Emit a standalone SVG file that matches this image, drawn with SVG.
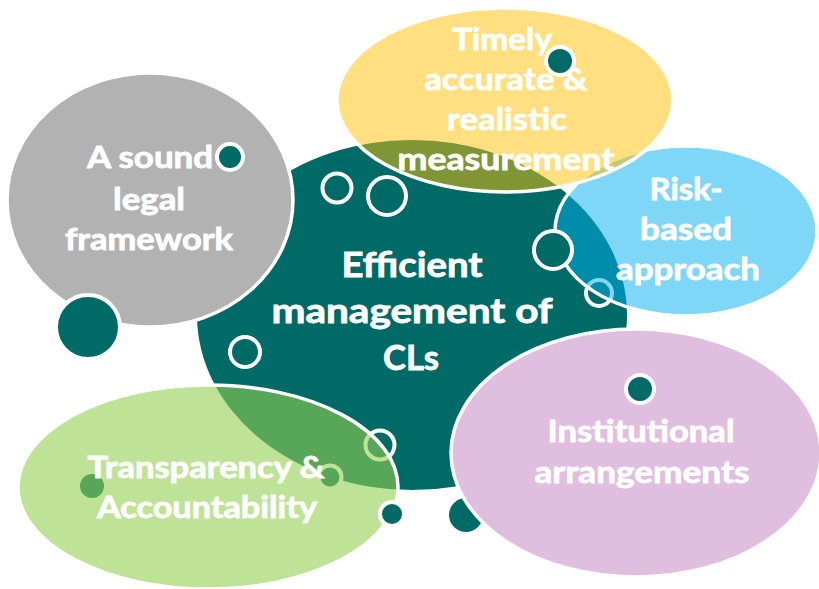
<svg xmlns="http://www.w3.org/2000/svg" width="819" height="589" viewBox="0 0 819 589">
  <style>
    .lbl { font-family: Lato, "Open Sans", "DejaVu Sans", sans-serif; font-weight: bold; fill: #ffffff; stroke: #ffffff; stroke-width: 0.8; text-anchor: middle; }
    .edge { stroke: #ffffff; stroke-width: 3.5; }
    .ring { fill: #006a67; stroke: #ffffff; stroke-width: 4; }
    .dot { fill: #006a67; }
  </style>

  <rect width="819" height="589" fill="#ffffff"/>

  <!-- central bubble -->
  <g id="center">
    <ellipse cx="412" cy="315" rx="215" ry="175" fill="#006a67"/>
    <text class="lbl" font-size="35" x="412" y="277" textLength="141" lengthAdjust="spacingAndGlyphs">Efficient</text>
    <text class="lbl" font-size="35" x="412" y="323" textLength="281" lengthAdjust="spacingAndGlyphs">management of</text>
    <text class="lbl" font-size="35" x="411" y="370" textLength="56" lengthAdjust="spacingAndGlyphs">CLs</text>
  </g>

  <!-- small rings lying beneath the translucent bubbles -->
  <g id="rings-low">
    <circle class="ring" cx="337" cy="188" r="14.5"/>
    <circle class="ring" cx="387" cy="196" r="19"/>
    <circle class="ring" cx="245" cy="352" r="15"/>
    <circle class="ring" cx="599" cy="293" r="13"/>
    <circle class="ring" cx="380" cy="445" r="14.5"/>
    <circle class="ring" cx="330" cy="477" r="11.5"/>
    <circle class="dot" cx="92" cy="486" r="12"/>
  </g>

  <g id="legal">
    <ellipse class="edge" cx="150" cy="200" rx="143" ry="127" fill="#b2b2b2"/>
    <text class="lbl" font-size="30" x="150" y="168" textLength="126" lengthAdjust="spacingAndGlyphs">A sound</text>
    <text class="lbl" font-size="30" x="149" y="210" textLength="72" lengthAdjust="spacingAndGlyphs">legal</text>
    <text class="lbl" font-size="30" x="149" y="250" textLength="168" lengthAdjust="spacingAndGlyphs">framework</text>
  </g>

  <g id="rings-legal">
    <circle class="ring" cx="88" cy="327" r="32"/>
    <circle class="ring" cx="230" cy="157" r="13"/>
  </g>

  <g id="risk">
    <ellipse class="edge" cx="686" cy="231" rx="131" ry="85" fill="#00b0f0" fill-opacity="0.5"/>
    <text class="lbl" font-size="31" x="686" y="200" textLength="73" lengthAdjust="spacingAndGlyphs">Risk-</text>
    <text class="lbl" font-size="31" x="686" y="240" textLength="92" lengthAdjust="spacingAndGlyphs">based</text>
    <text class="lbl" font-size="31" x="688" y="280" textLength="144" lengthAdjust="spacingAndGlyphs">approach</text>
  </g>

  <circle class="ring" cx="553" cy="250" r="19"/>

  <g id="timely">
    <ellipse class="edge" cx="505" cy="100" rx="168" ry="92" fill="#ffc000" fill-opacity="0.5"/>
    <text class="lbl" font-size="31" x="502" y="50" textLength="100" lengthAdjust="spacingAndGlyphs">Timely</text>
    <text class="lbl" font-size="31" x="506" y="90" textLength="163" lengthAdjust="spacingAndGlyphs">accurate &amp;</text>
    <text class="lbl" font-size="31" x="507" y="130" textLength="120" lengthAdjust="spacingAndGlyphs">realistic</text>
    <text class="lbl" font-size="31" x="506" y="170" textLength="217" lengthAdjust="spacingAndGlyphs">measurement</text>
  </g>

  <circle class="ring" cx="560" cy="61" r="14"/>

  <g id="transparency">
    <ellipse class="edge" cx="208" cy="487" rx="190" ry="102" fill="#92d050" fill-opacity="0.6"/>
    <text class="lbl" font-size="30" x="206" y="478" textLength="237" lengthAdjust="spacingAndGlyphs">Transparency &amp;</text>
    <text class="lbl" font-size="30" x="207" y="518" textLength="220" lengthAdjust="spacingAndGlyphs">Accountability</text>
  </g>

  <g id="rings-bottom">
    <circle class="ring" cx="392" cy="514" r="12"/>
    <circle class="dot" cx="466" cy="515" r="17"/>
  </g>

  <g id="institutional">
    <ellipse class="edge" cx="636" cy="453" rx="185" ry="124" fill="#dfbedf"/>
    <text class="lbl" font-size="31" x="641" y="442" textLength="187" lengthAdjust="spacingAndGlyphs">Institutional</text>
    <text class="lbl" font-size="31" x="642" y="483" textLength="215" lengthAdjust="spacingAndGlyphs">arrangements</text>
  </g>

  <circle class="ring" cx="640" cy="389" r="14"/>
</svg>
